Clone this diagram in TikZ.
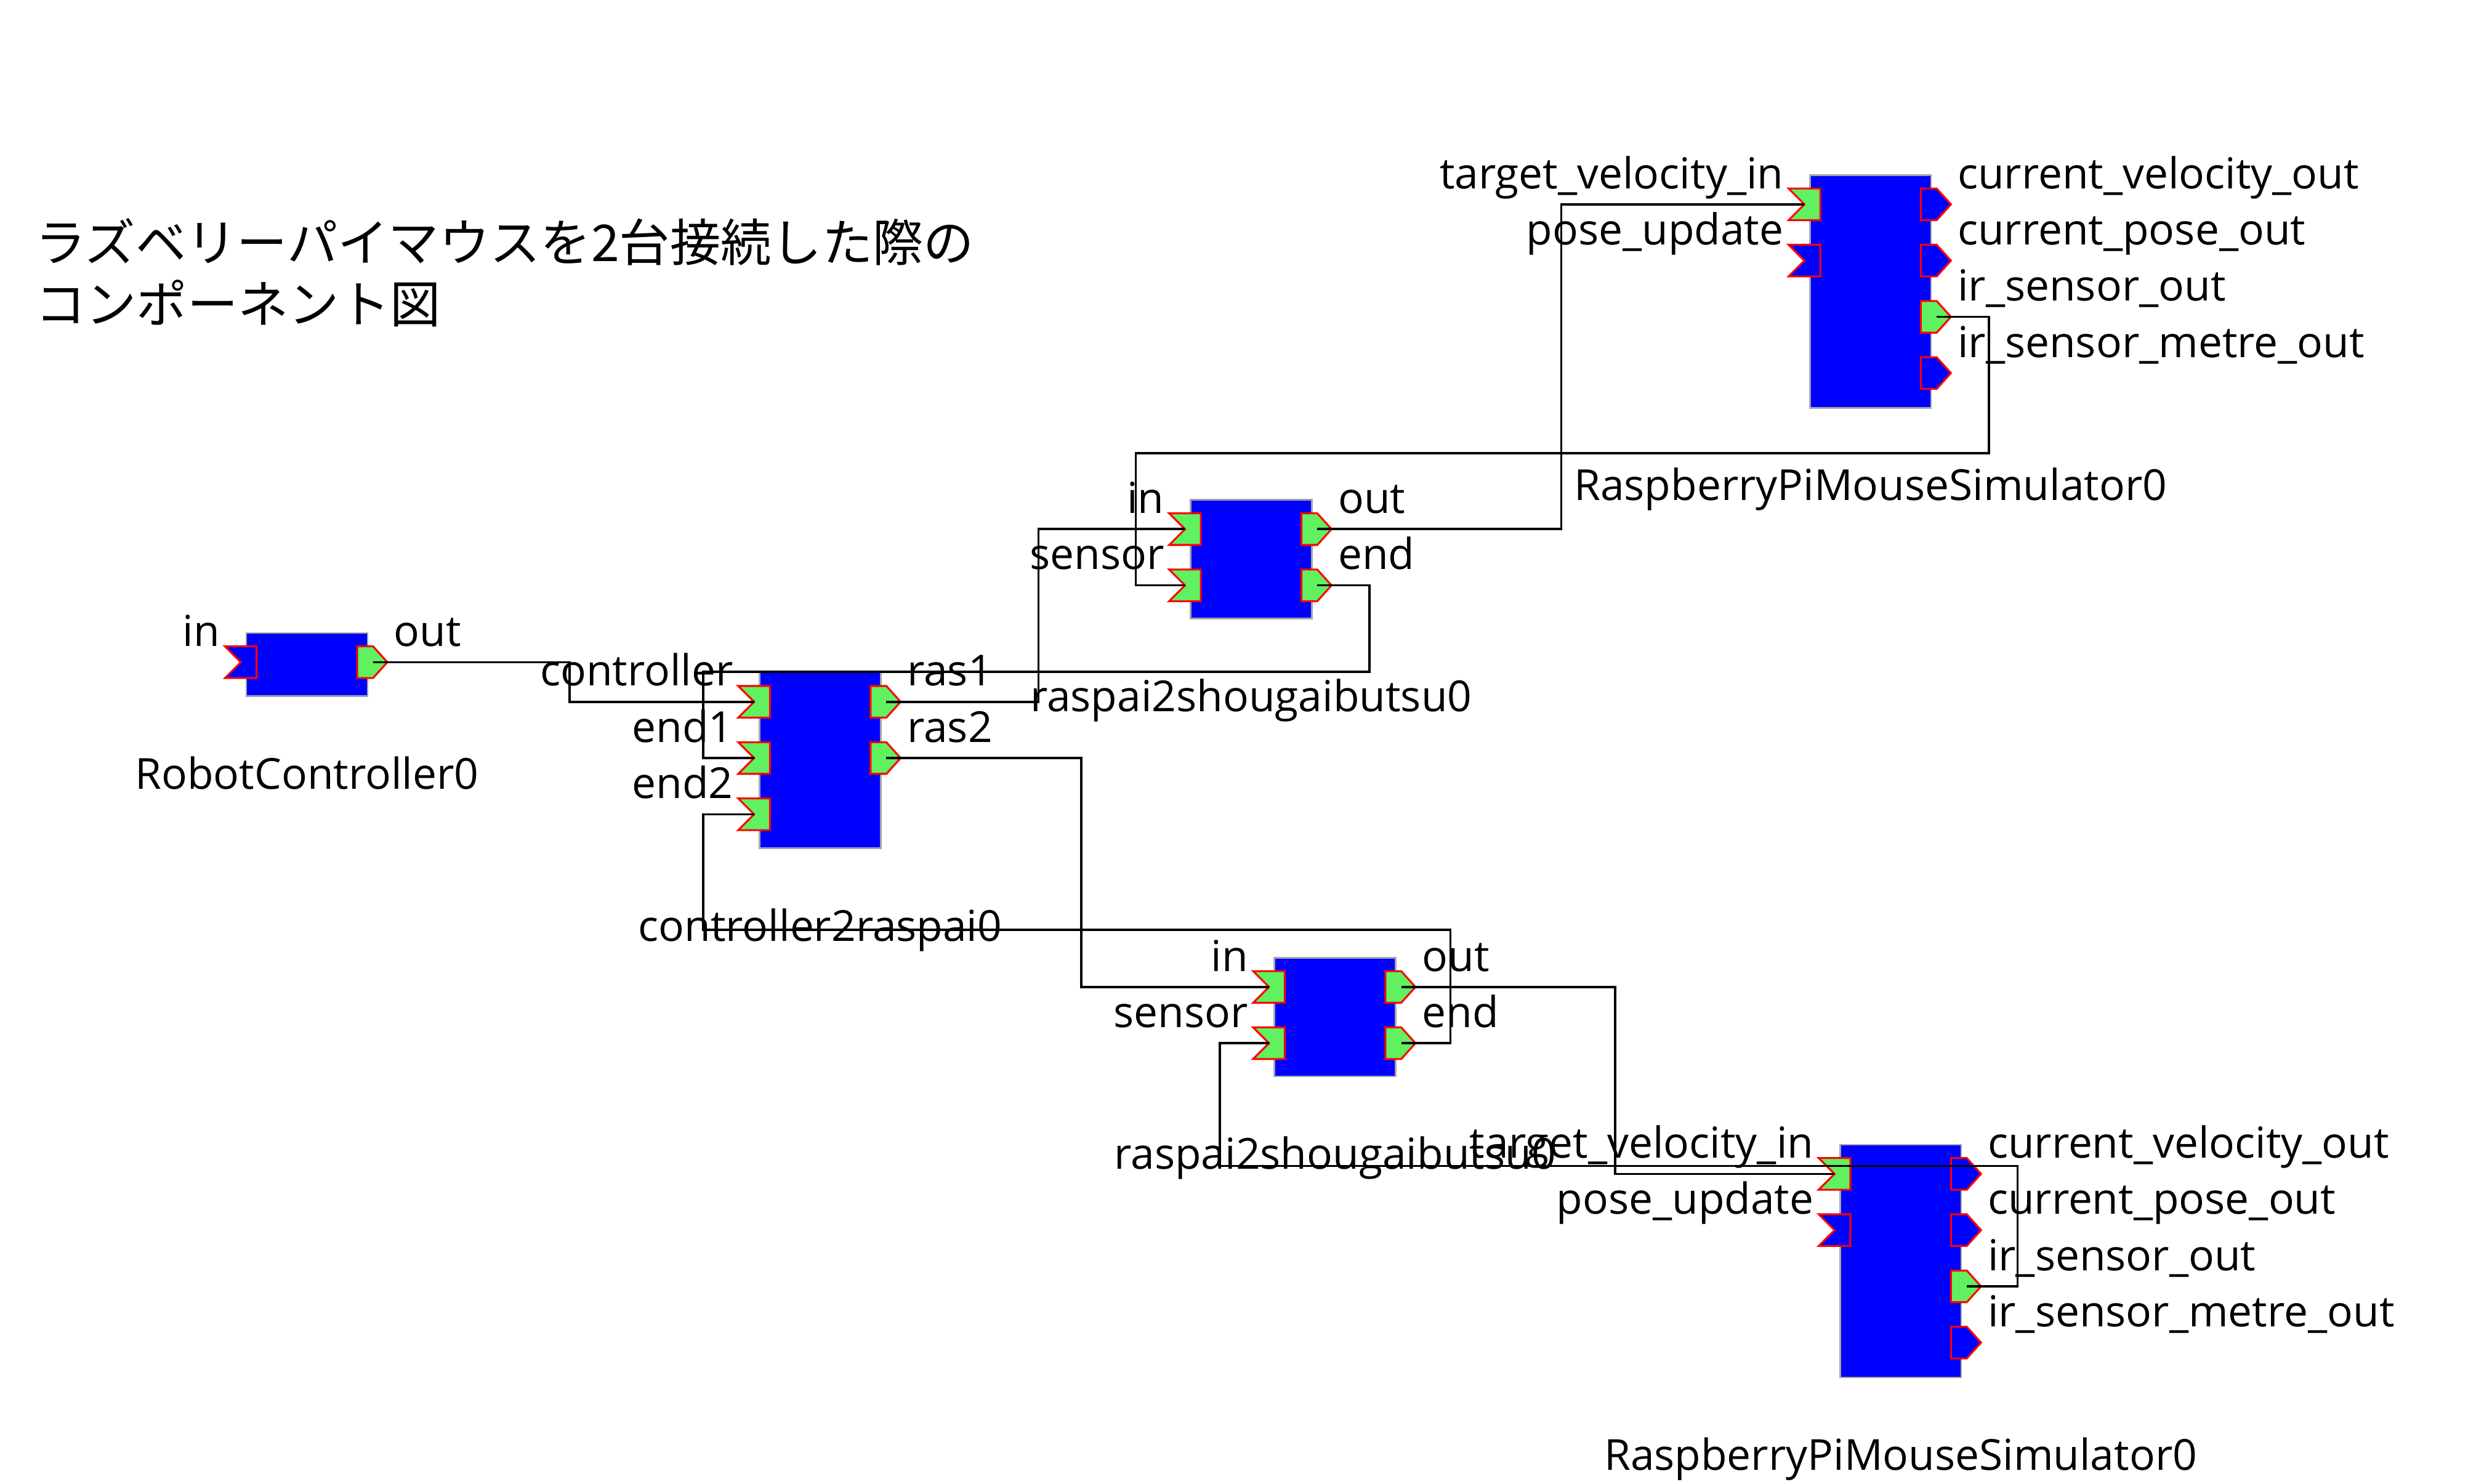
\documentclass[tikz,border=0pt]{standalone}
\usepackage{fontspec}
\setmainfont{Open Sans}
\newfontfamily\jpfont{Noto Sans CJK JP}
\usetikzlibrary{positioning}
\definecolor{portgreen}{RGB}{96,240,96}
\tikzset{comp/.style={draw=gray!70,line width=1pt,fill=blue,minimum width=76.5pt,inner sep=0pt,anchor=north west}}
\tikzset{port/.style={draw=red,line width=1.2pt,line join=miter}}
\tikzset{plabel/.style={font=\fontsize{27}{33}\selectfont,inner sep=0pt}}
\tikzset{tlabel/.style={font=\jpfont\fontsize{32}{38}\selectfont,inner sep=0pt,anchor=base west}}
\tikzset{wire/.style={draw,line width=1.4pt}}
% in / out ports: block, offset from top, name, label, fill
\newcommand{\inport}[5]{%
  \coordinate (#3) at ([xshift=-3pt,yshift=-#2pt]#1.north west);
  \filldraw[port,fill=#5] (#3) ++(-10,10) -- ++(20,0) -- ++(0,-20) -- ++(-20,0) -- (#3) -- cycle;
  \node[plabel,anchor=base east] (#3l) at ([xshift=-13pt,yshift=10pt]#3) {#4};}
\newcommand{\outport}[5]{%
  \coordinate (#3) at ([xshift=3pt,yshift=-#2pt]#1.north east);
  \filldraw[port,fill=#5] (#3) ++(-10,10) -- ++(10,0) -- ++(9,-10) -- ++(-9,-10) -- ++(-10,0) -- cycle;
  \node[plabel,anchor=base west] (#3l) at ([xshift=13pt,yshift=10pt]#3) {#4};}

\begin{document}
\begin{tikzpicture}[x=1pt,y=1pt]
    \useasboundingbox (0,0) rectangle (1568,-936.4);
    \node[tlabel] (title1) at (22,-165) {ラズベリーパイマウスを2台接続した際の};
    \node[tlabel] (title2) at (22,-204) {コンポーネント図};

    % RobotController0
    \node[comp,minimum height=40pt] (rc) at (155,-399) {};
    \node[plabel,anchor=base] (rcname) at ([yshift=-58pt]rc.south) {RobotController0};
    \inport{rc}{19}{rcin}{in}{blue}
    \outport{rc}{19}{rcout}{out}{portgreen}

    % controller2raspai0
    \node[comp,minimum height=111pt] (c2r) at (479,-424) {};
    \node[plabel,anchor=base] (c2rname) at ([yshift=-58pt]c2r.south) {controller2raspai0};
    \inport{c2r}{19}{c2rctl}{controller}{portgreen}
    \inport{c2r}{54.5}{c2rea}{end1}{portgreen}
    \inport{c2r}{90}{c2reb}{end2}{portgreen}
    \outport{c2r}{19}{c2rra}{ras1}{portgreen}
    \outport{c2r}{54.5}{c2rrb}{ras2}{portgreen}

    % raspai2shougaibutsu0 (upper)
    \node[comp,minimum height=75pt] (shoA) at (751,-315) {};
    \node[plabel,anchor=base] (shoAname) at ([yshift=-58pt]shoA.south) {raspai2shougaibutsu0};
    \inport{shoA}{19}{shoAin}{in}{portgreen}
    \inport{shoA}{54.5}{shoAsen}{sensor}{portgreen}
    \outport{shoA}{19}{shoAout}{out}{portgreen}
    \outport{shoA}{54.5}{shoAend}{end}{portgreen}

    % RaspberryPiMouseSimulator0 (upper)
    \node[comp,minimum height=147pt] (simA) at (1142,-110) {};
    \node[plabel,anchor=base] (simAname) at ([yshift=-58pt]simA.south) {RaspberryPiMouseSimulator0};
    \inport{simA}{19}{simAtv}{target\_velocity\_in}{portgreen}
    \inport{simA}{54.5}{simApu}{pose\_update}{blue}
    \outport{simA}{19}{simAcv}{current\_velocity\_out}{blue}
    \outport{simA}{54.5}{simAcp}{current\_pose\_out}{blue}
    \outport{simA}{90}{simAir}{ir\_sensor\_out}{portgreen}
    \outport{simA}{125.5}{simAim}{ir\_sensor\_metre\_out}{blue}

    % raspai2shougaibutsu0 (lower)
    \node[comp,minimum height=75pt] (shoB) at (804,-604) {};
    \node[plabel,anchor=base] (shoBname) at ([yshift=-58pt]shoB.south) {raspai2shougaibutsu0};
    \inport{shoB}{19}{shoBin}{in}{portgreen}
    \inport{shoB}{54.5}{shoBsen}{sensor}{portgreen}
    \outport{shoB}{19}{shoBout}{out}{portgreen}
    \outport{shoB}{54.5}{shoBend}{end}{portgreen}

    % RaspberryPiMouseSimulator0 (lower)
    \node[comp,minimum height=147pt] (simB) at (1161,-722) {};
    \node[plabel,anchor=base] (simBname) at ([yshift=-58pt]simB.south) {RaspberryPiMouseSimulator0};
    \inport{simB}{19}{simBtv}{target\_velocity\_in}{portgreen}
    \inport{simB}{54.5}{simBpu}{pose\_update}{blue}
    \outport{simB}{19}{simBcv}{current\_velocity\_out}{blue}
    \outport{simB}{54.5}{simBcp}{current\_pose\_out}{blue}
    \outport{simB}{90}{simBir}{ir\_sensor\_out}{portgreen}
    \outport{simB}{125.5}{simBim}{ir\_sensor\_metre\_out}{blue}

    % connections
    \path[wire] (rcout) -- ++(124,0) |- (c2rctl);
    \path[wire] (c2rra) -- ++(96,0) |- (shoAin);
    \path[wire] (c2rrb) -- ++(123,0) |- (shoBin);
    \path[wire] (shoAout) -- ++(154,0) |- (simAtv);
    \path[wire] (shoAend) -- ++(33,0) -- ++(0,-54.5) -| ([xshift=-32pt]c2rea) -- (c2rea);
    \path[wire] (simAir) -- ++(33,0) -- ++(0,-86) -| ([xshift=-31pt]shoAsen) -- (shoAsen);
    \path[wire] (shoBout) -- ++(135,0) |- (simBtv);
    \path[wire] (shoBend) -- ++(31,0) -- ++(0,71.5) -| ([xshift=-32pt]c2reb) -- (c2reb);
    \path[wire] (simBir) -- ++(32,0) -- ++(0,76) -| ([xshift=-31pt]shoBsen) -- (shoBsen);
\end{tikzpicture}
\end{document}
